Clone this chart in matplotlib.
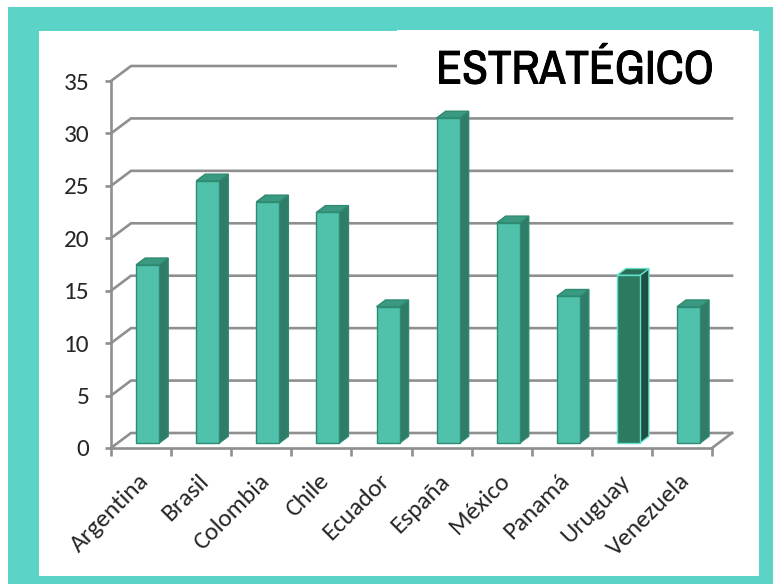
import matplotlib
matplotlib.use("Agg")
import matplotlib.pyplot as plt
from matplotlib import font_manager
import matplotlib.patheffects as pe
from matplotlib.patches import Rectangle, Polygon
from matplotlib.transforms import ScaledTranslation
import numpy as np

paises = ["Argentina", "Brasil", "Colombia", "Chile", "Ecuador",
          "España", "México", "Panamá", "Uruguay", "Venezuela"]
valores = [17, 25, 23, 22, 13, 31, 21, 14, 16, 13]
destacado = "Uruguay"
y_ticks = [0, 5, 10, 15, 20, 25, 30, 35]
titulo = "ESTRATÉGICO"

W, H, DPI = 773, 584, 100
TEAL = "#5bd3c6"
GRID = "#8f8f8f"
TXT = "#262626"

# bar faces: front, side, top, edge
NORMAL = ("#50c2ac", "#2f7c68", "#3a9a81", "#2e8a70")
DARK = ("#2c7a60", "#1e4f40", "#2b6e57", "#63e0cc")

DEPTH_PX = (20, 15)      # floor depth, in pixels (right, up)
BAR_W = 0.383            # bar width in category units
BAR_D = (0.33, 0.78)     # bar front / back position inside the floor depth


def pick(families, **kw):
    # first family in the list that is really installed
    for f in families:
        try:
            font_manager.findfont(font_manager.FontProperties(family=f, **kw),
                                  fallback_to_default=False)
            return f
        except ValueError:
            pass
    return "DejaVu Sans"


tick_font = pick(["Carlito", "Lato"])
tick_size = 18.2 if tick_font == "Carlito" else 16.5
title_font = pick(["Liberation Sans Narrow", "Arimo Narrow", "Archivo Narrow",
                   "Roboto Condensed", "PT Sans Narrow", "Open Sans Condensed",
                   "Sofia Sans Condensed"], weight="bold")

plt.rcParams["font.family"] = [tick_font, "DejaVu Sans"]

fig = plt.figure(figsize=(W / DPI, H / DPI), dpi=DPI)


def px_box(x0, y0, x1, y1):
    # pixel box (top-left origin) -> figure fraction rect
    return (x0 / W, 1 - y1 / H, (x1 - x0) / W, (y1 - y0) / H)


# teal frame and white panel
l, b, w, h = px_box(8, 7, W, H)
fig.patches.append(Rectangle((l, b), w, h, transform=fig.transFigure,
                             facecolor=TEAL, edgecolor="none", zorder=-3))
l, b, w, h = px_box(39, 31, 759, 576)
fig.patches.append(Rectangle((l, b), w, h, transform=fig.transFigure,
                             facecolor="white", edgecolor="none", zorder=-2))

ax = fig.add_axes(px_box(111, 81, 712, 448))
ax.patch.set_visible(False)
n = len(paises)
ax.set_xlim(0, n)
ax.set_ylim(0, 35)


def depth(frac):
    # data-space shift of a point pushed back by frac of the floor depth
    inv = ax.transData.inverted()
    p0 = ax.transData.transform((0, 0))
    x, y = inv.transform(p0 + np.array(DEPTH_PX) * frac)
    return x, y


dx, dy = depth(1.0)

# back wall gridlines with their diagonal links to the front axis
for v in y_ticks:
    ax.plot([0, dx, n + dx], [v, v + dy, v + dy], color=GRID, lw=1.9,
            solid_joinstyle="miter", clip_on=False, zorder=1)
# right edge of the floor
ax.plot([n, n + dx], [0, dy], color=GRID, lw=1.9, clip_on=False, zorder=1)

# 3-D style bars
ox0, oy0 = depth(BAR_D[0])
ox1, oy1 = depth(BAR_D[1])
centros = np.arange(n) + 0.5
for c, v, p in zip(centros, valores, paises):
    front, side, top, edge = DARK if p == destacado else NORMAL
    x0 = c - BAR_W / 2
    x1 = c + BAR_W / 2
    ax.add_patch(Polygon([(x1 + ox0, oy0), (x1 + ox1, oy1),
                          (x1 + ox1, v + oy1), (x1 + ox0, v + oy0)],
                         closed=True, facecolor=side, edgecolor=edge,
                         lw=1.0, clip_on=False, zorder=2))
    ax.add_patch(Polygon([(x0 + ox0, v + oy0), (x1 + ox0, v + oy0),
                          (x1 + ox1, v + oy1), (x0 + ox1, v + oy1)],
                         closed=True, facecolor=top, edgecolor=edge,
                         lw=1.0, clip_on=False, zorder=2))
    ax.bar(c + ox0, v, width=BAR_W, bottom=oy0, color=front,
           edgecolor=edge, linewidth=1.0, clip_on=False, zorder=3)

# axes
for s in ("top", "right"):
    ax.spines[s].set_visible(False)
for s in ("left", "bottom"):
    ax.spines[s].set_color(GRID)
    ax.spines[s].set_linewidth(1.9)
    ax.spines[s].set_zorder(4)

ax.set_yticks(y_ticks)
ax.tick_params(axis="y", length=4.5, width=1.9, color=GRID, pad=11,
               labelsize=tick_size, labelcolor=TXT)
ax.set_xticks(np.arange(n + 1))
ax.tick_params(axis="x", which="major", length=6, width=1.9, color=GRID,
               labelbottom=False)
ax.set_xticks(centros, minor=True)
ax.set_xticklabels(paises, minor=True, rotation=45, ha="right",
                   rotation_mode="anchor", fontsize=tick_size, color=TXT)
ax.tick_params(axis="x", which="minor", length=0, pad=16)
shift = ScaledTranslation(-3 / DPI, 0, fig.dpi_scale_trans)
for lab in ax.get_xticklabels(minor=True):
    lab.set_transform(lab.get_transform() + shift)

# title block
l, b, w, h = px_box(397, 30, 753, 105)
fig.patches.append(Rectangle((l, b), w, h, transform=fig.transFigure,
                             facecolor="white", edgecolor="none", zorder=5))
fig.text(575 / W, 1 - 70 / H, titulo, ha="center", va="center",
         fontsize=34, fontweight="bold",
         family=[title_font, "DejaVu Sans"], color="black", zorder=6,
         path_effects=[pe.withStroke(linewidth=0.7, foreground="black")])

fig.savefig("out.png", dpi=DPI)
